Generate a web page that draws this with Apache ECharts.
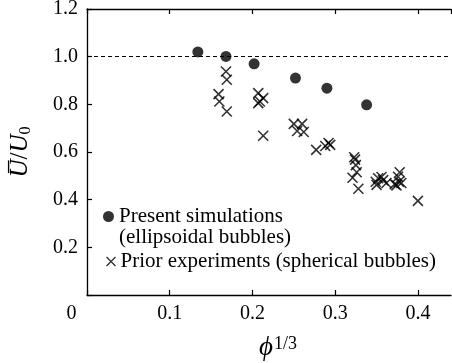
<!DOCTYPE html>
<html><head><meta charset="utf-8">
<script src="https://cdn.jsdelivr.net/npm/echarts@6/dist/echarts.min.js"></script>
<style>html,body{margin:0;padding:0;background:#fff}#c{width:452px;height:363px}</style>
</head><body><div id="c"></div>
<script>
// Present simulations (ellipsoidal bubbles): [phi^(1/3), U/U0]
var simX = [0.134, 0.168, 0.202, 0.252, 0.290, 0.338];
var simY = [1.020, 1.001, 0.970, 0.910, 0.868, 0.798];
// Prior experiments (spherical bubbles)
var expX = [0.168, 0.169, 0.159, 0.160, 0.169,
            0.207, 0.213, 0.207, 0.209, 0.213,
            0.250, 0.260, 0.254, 0.262, 0.277, 0.288, 0.292, 0.294,
            0.323, 0.324, 0.325, 0.326, 0.321, 0.328,
            0.350, 0.349, 0.352, 0.356, 0.358, 0.362, 0.372, 0.374, 0.377, 0.378, 0.376, 0.380,
            0.400];
var expY = [0.938, 0.903, 0.843, 0.812, 0.770,
            0.847, 0.826, 0.805, 0.812, 0.668,
            0.718, 0.718, 0.688, 0.684, 0.609, 0.625, 0.638, 0.630,
            0.578, 0.568, 0.545, 0.515, 0.492, 0.446,
            0.462, 0.475, 0.490, 0.495, 0.482, 0.470, 0.465, 0.460, 0.475, 0.515, 0.496, 0.470,
            0.395];
var xTicks = [0, 0.1, 0.2, 0.3, 0.4];
var yTicks = [0.2, 0.4, 0.6, 0.8, 1.0, 1.2];
var refLine = 1.0;
var simName = 'Present simulations\n(ellipsoidal bubbles)';
var expName = 'Prior experiments (spherical bubbles)';

var FONT = 'Liberation Serif';
var cross = 'path://M0,0L10,10M10,0L0,10';
function pairs(xs, ys){ return xs.map(function(v,i){ return [v, ys[i]]; }); }
function near(v, arr){ return arr.some(function(t){ return Math.abs(t - v) < 1e-6; }); }

var chart = echarts.init(document.getElementById('c'));
chart.setOption({
  animation: false,
  backgroundColor: '#fff',
  grid: { left: 87, right: 1, top: 9, bottom: 68, containLabel: false, outerBoundsMode: 'none' },
  xAxis: [{
    type: 'value', min: 0, max: 0.44, interval: 0.1,
    axisLine: { lineStyle: { color: '#000', width: 1.3 } },
    axisTick: { inside: true, length: 5, lineStyle: { color: '#000', width: 1.2 } },
    splitLine: { show: false },
    axisLabel: {
      margin: 9, color: '#000', fontFamily: FONT, fontSize: 20, showMaxLabel: false,
      formatter: function(v){
        if (!near(v, xTicks)) return '';
        if (Math.abs(v) < 1e-9) return '{z|0}';
        return v.toFixed(1);
      },
      rich: { z: { fontFamily: FONT, fontSize: 20, color: '#000', padding: [0, 31, 0, 0] } }
    },
    name: '{p|ϕ}{s|1/3}', nameLocation: 'middle', nameGap: 40,
    nameTextStyle: {
      rich: {
        p: { fontFamily: FONT, fontStyle: 'italic', fontSize: 27, color: '#000', lineHeight: 26, padding: [0, 1, 0, 18] },
        s: { fontFamily: FONT, fontSize: 18, color: '#000', lineHeight: 26, verticalAlign: 'top' }
      }
    }
  }, {
    type: 'value', position: 'top', min: 0, max: 0.44, interval: 0.1,
    axisLine: { lineStyle: { color: '#000', width: 1.3 } },
    axisTick: { inside: true, length: 5, lineStyle: { color: '#000', width: 1.2 } },
    axisLabel: { show: false }, splitLine: { show: false }
  }],
  yAxis: [{
    type: 'value', min: 0, max: 1.2, interval: 0.2,
    axisLine: { show: true, lineStyle: { color: '#000', width: 1.3 } },
    axisTick: { show: true, inside: true, length: 5, lineStyle: { color: '#000', width: 1.2 } },
    splitLine: { show: false },
    axisLabel: {
      margin: 9, color: '#000', fontFamily: FONT, fontSize: 20,
      formatter: function(v){ return near(v, yTicks) ? v.toFixed(1) : ''; }
    },
    name: '{a|U̅}{b|/}{a|U}{c|0}', nameLocation: 'middle', nameGap: 53, nameRotate: 90,
    nameTextStyle: {
      rich: {
        a: { fontFamily: FONT, fontStyle: 'italic', fontSize: 25, color: '#000', lineHeight: 28 },
        b: { fontFamily: FONT, fontSize: 25, color: '#000', lineHeight: 28 },
        c: { fontFamily: FONT, fontSize: 16, color: '#000', lineHeight: 16, verticalAlign: 'bottom' }
      }
    }
  }],
  legend: [{
    data: [{ name: simName, icon: 'circle', itemStyle: { color: '#000' } }],
    formatter: function(n){ return '\n' + n; },
    left: 103, top: 185, padding: 0, itemWidth: 11, itemHeight: 11, itemGap: 0, itemTextGap: 6,
    textStyle: { fontFamily: FONT, fontSize: 21, color: '#000', lineHeight: 21 }
  }, {
    data: [{ name: expName, icon: cross, itemStyle: { color: 'none', borderColor: '#000', borderWidth: 1.4 } }],
    left: 104, top: 251, padding: 0, itemWidth: 9, itemHeight: 9, itemGap: 0, itemTextGap: 7,
    textStyle: { fontFamily: FONT, fontSize: 21, color: '#000', lineHeight: 21 }
  }],
  series: [{
    name: simName, type: 'scatter', data: pairs(simX, simY),
    symbol: 'circle', symbolSize: 11,
    itemStyle: { color: '#000' },
    markLine: {
      silent: true, symbol: 'none', label: { show: false },
      lineStyle: { color: '#000', width: 1, type: [4, 3] },
      data: [{ yAxis: refLine }]
    }
  }, {
    name: expName, type: 'scatter', data: pairs(expX, expY),
    symbol: cross, symbolSize: 10,
    itemStyle: { color: 'none', borderColor: '#000', borderWidth: 1.6 }
  }]
});
</script></body></html>
